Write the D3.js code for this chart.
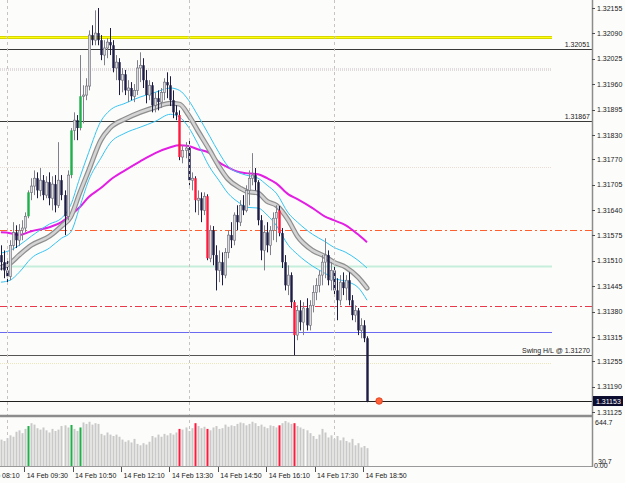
<!doctype html>
<html>
<head>
<script src="https://d3js.org/d3.v7.min.js"></script>
<style>
body { margin: 0; background: #fcfcfa; }
svg text { font-family: "Liberation Sans", Arial, sans-serif; font-size: 7px; fill: #202020; }
</style>
</head>
<body>
<svg width="625" height="483"></svg>
<script>
// ---- data (M5 bars, 14 Feb, first bar 08:50) ----
var firstBar = "08:50";
var opens = [1.31525,1.31507,1.31486,1.31471,1.31550,1.31583,1.31563,1.31588,1.31594,1.31624,
  1.31685,1.31701,1.31721,1.31690,1.31716,1.31678,1.31711,1.31670,1.31706,1.31652,
  1.31716,1.31678,1.31624,1.31729,1.31843,1.31869,1.31849,1.31930,1.31933,1.31956,
  1.32086,1.32073,1.32091,1.32073,1.32035,1.32053,1.32068,1.32060,1.32002,1.32017,
  1.31971,1.31986,1.31945,1.31951,1.31930,1.31945,1.32002,1.32009,1.31971,1.31933,
  1.31958,1.31907,1.31925,1.31915,1.31940,1.31966,1.31958,1.31920,1.31889,1.31882,
  1.31775,1.31792,1.31798,1.31716,1.31721,1.31665,1.31670,1.31639,1.31675,1.31517,
  1.31588,1.31525,1.31486,1.31507,1.31474,1.31532,1.31576,1.31563,1.31627,1.31609,
  1.31652,1.31639,1.31690,1.31721,1.31729,1.31711,1.31614,1.31537,1.31583,1.31550,
  1.31588,1.31619,1.31639,1.31581,1.31507,1.31448,1.31474,1.31405,1.31321,1.31384,
  1.31354,1.31390,1.31346,1.31397,1.31430,1.31448,1.31474,1.31507,1.31525,1.31461,
  1.31486,1.31435,1.31410,1.31456,1.31441,1.31461,1.31410,1.31372,1.31384,1.31333,
  1.31346,1.31313];
var highs = [1.31550,1.31537,1.31517,1.31563,1.31609,1.31601,1.31604,1.31614,1.31634,1.31690,
  1.31721,1.31741,1.31736,1.31747,1.31729,1.31726,1.31736,1.31726,1.31729,1.31813,
  1.31729,1.31690,1.31741,1.31849,1.31889,1.31882,1.32035,1.31958,1.31976,1.32098,
  1.32111,1.32149,1.32155,1.32086,1.32073,1.32078,1.32104,1.32073,1.32035,1.32027,
  1.32002,1.31997,1.31971,1.31966,1.31961,1.32022,1.32042,1.32027,1.31997,1.31971,
  1.31966,1.31940,1.31945,1.31951,1.31976,1.31991,1.31981,1.31945,1.31907,1.31894,
  1.31805,1.31813,1.31818,1.31736,1.31726,1.31690,1.31685,1.31685,1.31680,1.31601,
  1.31599,1.31550,1.31537,1.31532,1.31543,1.31588,1.31609,1.31634,1.31652,1.31665,
  1.31678,1.31703,1.31741,1.31785,1.31747,1.31716,1.31627,1.31601,1.31609,1.31599,
  1.31634,1.31652,1.31650,1.31594,1.31525,1.31499,1.31481,1.31410,1.31397,1.31410,
  1.31405,1.31415,1.31410,1.31448,1.31466,1.31486,1.31525,1.31568,1.31537,1.31507,
  1.31499,1.31466,1.31474,1.31481,1.31474,1.31481,1.31423,1.31397,1.31390,1.31364,
  1.31359,1.31318];
var lows = [1.31486,1.31466,1.31456,1.31461,1.31537,1.31543,1.31548,1.31563,1.31583,1.31619,
  1.31665,1.31678,1.31670,1.31675,1.31665,1.31670,1.31652,1.31639,1.31634,1.31645,
  1.31665,1.31576,1.31614,1.31721,1.31818,1.31818,1.31843,1.31861,1.31920,1.31945,
  1.32060,1.32060,1.32060,1.32022,1.32009,1.32027,1.32035,1.31991,1.31971,1.31933,
  1.31940,1.31933,1.31915,1.31920,1.31915,1.31933,1.31966,1.31951,1.31912,1.31920,
  1.31889,1.31889,1.31894,1.31900,1.31920,1.31925,1.31905,1.31874,1.31869,1.31767,
  1.31759,1.31772,1.31703,1.31690,1.31634,1.31627,1.31609,1.31627,1.31512,1.31507,
  1.31499,1.31435,1.31456,1.31448,1.31466,1.31517,1.31543,1.31550,1.31588,1.31599,
  1.31627,1.31634,1.31652,1.31703,1.31690,1.31601,1.31512,1.31486,1.31532,1.31525,
  1.31563,1.31558,1.31573,1.31492,1.31435,1.31423,1.31390,1.31270,1.31308,1.31333,
  1.31321,1.31333,1.31333,1.31379,1.31410,1.31430,1.31448,1.31466,1.31448,1.31435,
  1.31423,1.31359,1.31397,1.31423,1.31410,1.31397,1.31359,1.31354,1.31321,1.31313,
  1.31303,1.31150];
var closes = [1.31507,1.31486,1.31471,1.31550,1.31583,1.31563,1.31588,1.31594,1.31624,1.31685,
  1.31701,1.31721,1.31690,1.31716,1.31678,1.31711,1.31670,1.31706,1.31652,1.31716,
  1.31678,1.31624,1.31729,1.31843,1.31869,1.31849,1.31930,1.31933,1.31956,1.32086,
  1.32073,1.32091,1.32073,1.32035,1.32053,1.32068,1.32060,1.32002,1.32017,1.31971,
  1.31986,1.31945,1.31951,1.31930,1.31945,1.32002,1.32009,1.31971,1.31933,1.31958,
  1.31907,1.31925,1.31915,1.31940,1.31966,1.31958,1.31920,1.31889,1.31882,1.31775,
  1.31792,1.31798,1.31716,1.31721,1.31665,1.31670,1.31639,1.31675,1.31517,1.31588,
  1.31525,1.31486,1.31507,1.31474,1.31532,1.31576,1.31563,1.31627,1.31609,1.31652,
  1.31639,1.31690,1.31721,1.31729,1.31711,1.31614,1.31537,1.31583,1.31550,1.31588,
  1.31619,1.31634,1.31581,1.31507,1.31448,1.31474,1.31405,1.31321,1.31384,1.31354,
  1.31390,1.31346,1.31397,1.31430,1.31448,1.31474,1.31507,1.31525,1.31461,1.31486,
  1.31435,1.31410,1.31456,1.31441,1.31461,1.31410,1.31372,1.31384,1.31333,1.31346,
  1.31313,1.31153];
var volumes = [370,350,390,430,410,480,500,460,520,560,
  600,580,530,510,540,500,470,520,490,510,
  560,570,540,575,520,490,540,610,590,620,
  580,600,590,450,430,470,440,420,440,410,
  370,340,360,330,380,310,290,320,300,340,
  420,400,440,410,450,430,460,440,470,520,
  510,540,490,530,600,560,530,550,520,500,
  540,560,520,530,580,550,570,560,590,610,
  600,570,590,620,600,560,580,550,530,570,
  560,540,570,600,630,610,590,600,560,540,
  520,500,460,420,380,440,520,470,400,430,
  380,420,360,400,350,330,380,290,320,260,
  280,250];
var bullSignals = [9, 23, 26];
var bearSignals = [59, 64, 68, 92, 97];

// moving averages, read at these bar numbers
var maIdx   = [0,3,6,10,16,20,23,26,29,33,36,41,46,51,56,59,62,65,69,72,75,79,81,85,88,91,95,98,103,107,110,114,118,121];
var maGray  = [1.31494,1.31504,1.31525,1.31550,1.31573,1.31599,1.31622,1.31683,1.31741,1.31818,1.31849,1.31872,1.31889,1.31902,1.31912,1.31910,1.31882,1.31843,1.31792,1.31752,1.31719,1.31696,1.31688,1.31683,1.31662,1.31652,1.31614,1.31573,1.31537,1.31522,1.31507,1.31494,1.31469,1.31441];
var maUpper = [1.31530,1.31537,1.31550,1.31573,1.31604,1.31619,1.31652,1.31721,1.31787,1.31866,1.31894,1.31912,1.31928,1.31940,1.31951,1.31945,1.31920,1.31882,1.31828,1.31787,1.31752,1.31734,1.31729,1.31721,1.31703,1.31683,1.31632,1.31609,1.31578,1.31560,1.31545,1.31532,1.31512,1.31492];
var maLower = [1.31456,1.31461,1.31481,1.31517,1.31543,1.31568,1.31583,1.31647,1.31716,1.31772,1.31810,1.31836,1.31851,1.31866,1.31884,1.31877,1.31851,1.31810,1.31749,1.31716,1.31683,1.31657,1.31647,1.31645,1.31627,1.31601,1.31550,1.31527,1.31497,1.31479,1.31466,1.31458,1.31443,1.31410];
var maSlow  = [1.31583,1.31581,1.31576,1.31586,1.31596,1.31609,1.31627,1.31647,1.31673,1.31696,1.31716,1.31741,1.31764,1.31785,1.31800,1.31805,1.31803,1.31795,1.31785,1.31762,1.31749,1.31736,1.31734,1.31731,1.31721,1.31708,1.31680,1.31668,1.31645,1.31624,1.31614,1.31601,1.31578,1.31558];

// horizontal objects
var levelPrices = [1.32081, 1.32051, 1.32000, 1.31867, 1.31750, 1.31590, 1.31497, 1.31395, 1.31330, 1.31270, 1.31250, 1.31153];
var levelLabels = ["", "1.32051", "", "1.31867", "", "", "", "", "", "Swing H/L @ 1.31270", "", ""];
var sessionTimes = ["09:00", "14:00", "18:00"];
var timeLabels = ["08:10","09:30","10:50","12:10","13:30","14:50","16:10","17:30","18:50"];
var priceTicks = [1.32155,1.32090,1.32025,1.31960,1.31895,1.31830,1.31770,1.31705,1.31640,1.31575,1.31510,1.31445,1.31380,1.31315,1.31255,1.31190,1.31125];
var lastPrice = 1.31153;
var volTicks = ["644.7", "30.7", "0.00"];
var volMax = 644.7;

// ---- layout ----
var svg = d3.select("svg");
var axisX = 592, mainBottom = 415, volTop = 418, volBottom = 466;
var parseT = d3.timeParse("%Y-%m-%d %H:%M");
function tm(s) { return parseT("2013-02-14 " + s); }
var t0 = tm(firstBar);
function barTime(i) { return d3.timeMinute.offset(t0, 5 * i); }

var x = d3.scaleTime().domain([barTime(0), barTime(121)]).range([1, 367]);
var y = d3.scaleLinear().domain([1.31125, 1.32155]).range([412, 8]);
var yv = d3.scaleLinear().domain([0, volMax]).range([volBottom, 420]);

svg.append("rect").attr("width", 625).attr("height", 483).attr("fill", "#fcfcfa");

svg.append("clipPath").attr("id", "mainClip").append("rect")
  .attr("x", 0).attr("y", 0).attr("width", axisX).attr("height", mainBottom);
var main = svg.append("g").attr("clip-path", "url(#mainClip)");

// session separators
svg.append("g").selectAll("line").data(sessionTimes).enter().append("line")
  .attr("x1", d => Math.round(x(tm(d))) + 0.5).attr("x2", d => Math.round(x(tm(d))) + 0.5)
  .attr("y1", 0).attr("y2", volBottom)
  .attr("stroke", "#c8c2c2").attr("stroke-dasharray", "3,3");

// level line styles
var objEnd = 552;
var levelStyles = [
  {c: "#c9c900", w: 3.2, end: objEnd}, {c: "#3a3a3a", w: 1, end: axisX},
  {c: "#e2dbde", w: 3, end: objEnd, dash: "1,1"}, {c: "#3a3a3a", w: 1, end: axisX},
  {c: "#eadcd4", w: 1, end: objEnd, dash: "1,1"}, {c: "#ff5f2e", w: 1.2, end: axisX, dash: "7,3,2,3"},
  {c: "#c6eedc", w: 2, end: objEnd}, {c: "#e8384a", w: 1.2, end: axisX, dash: "7,3,2,3"},
  {c: "#6a6af2", w: 1, end: objEnd}, {c: "#555555", w: 1.2, end: axisX},
  {c: "#ece4bc", w: 1, end: objEnd, dash: "1,1"}, {c: "#202020", w: 1, end: axisX}
];
levelPrices.forEach(function (p, i) {
  var s = levelStyles[i], yy = Math.round(y(p)) + 0.5;
  main.append("line").attr("x1", 0).attr("x2", s.end).attr("y1", yy).attr("y2", yy)
    .attr("stroke", s.c).attr("stroke-width", s.w).attr("stroke-dasharray", s.dash || null);
  if (i === 0) {
    main.append("line").attr("x1", 0).attr("x2", s.end).attr("y1", yy).attr("y2", yy)
      .attr("stroke", "#ffff10").attr("stroke-width", 1.6);
  }
  if (levelLabels[i]) {
    main.append("text").attr("x", axisX - 2).attr("y", yy - 2.5)
      .attr("text-anchor", "end").text(levelLabels[i]);
  }
});

// moving averages
var line = d3.line().x((d, k) => x(barTime(maIdx[k]))).y(d => y(d)).curve(d3.curveMonotoneX);
main.append("path").attr("d", line(maSlow)).attr("fill", "none").attr("stroke", "#e21ee2").attr("stroke-width", 2);
main.append("path").attr("d", line(maUpper)).attr("fill", "none").attr("stroke", "#36c4f2").attr("stroke-width", 1);
main.append("path").attr("d", line(maLower)).attr("fill", "none").attr("stroke", "#36c4f2").attr("stroke-width", 1);
main.append("path").attr("d", line(maGray)).attr("fill", "none").attr("stroke", "#8e8e8e").attr("stroke-width", 5).attr("stroke-linecap", "round");
main.append("path").attr("d", line(maGray)).attr("fill", "none").attr("stroke", "#d4d4d4").attr("stroke-width", 2.6).attr("stroke-linecap", "round");

// candles
var bars = d3.range(opens.length);
var navy = "#1c1c44";
var cg = main.append("g");
cg.selectAll("line").data(bars).enter().append("line")
  .attr("x1", i => Math.round(x(barTime(i))) + 0.5).attr("x2", i => Math.round(x(barTime(i))) + 0.5)
  .attr("y1", i => y(highs[i])).attr("y2", i => y(lows[i]))
  .attr("stroke", i => closes[i] >= opens[i] ? "#80808c" : navy).attr("stroke-width", 1);
cg.selectAll("rect").data(bars).enter().append("rect")
  .attr("x", i => Math.round(x(barTime(i))) - 0.7)
  .attr("width", 2.4)
  .attr("y", i => y(Math.max(opens[i], closes[i])))
  .attr("height", i => Math.max(1, Math.abs(y(opens[i]) - y(closes[i]))))
  .attr("fill", function (i) {
    if (bullSignals.indexOf(i) >= 0) return "#1fb04a";
    if (bearSignals.indexOf(i) >= 0) return "#ff1a3c";
    return closes[i] >= opens[i] ? "#dcdcdc" : navy;
  })
  .attr("stroke", function (i) {
    if (bullSignals.indexOf(i) >= 0 || bearSignals.indexOf(i) >= 0) return "none";
    return closes[i] >= opens[i] ? "#6c6c7a" : "none";
  })
  .attr("stroke-width", 0.6);

// last price marker
main.append("circle").attr("cx", x(barTime(125))).attr("cy", y(lastPrice)).attr("r", 3.3)
  .attr("fill", "#ff6038").attr("stroke", "#d83a18").attr("stroke-width", 0.8);

// panel separator and axes frame
svg.append("line").attr("x1", 0).attr("x2", axisX).attr("y1", mainBottom + 1).attr("y2", mainBottom + 1)
  .attr("stroke", "#8c8c8c").attr("stroke-width", 2.5);
svg.append("line").attr("x1", 0).attr("x2", axisX).attr("y1", volBottom + 0.5).attr("y2", volBottom + 0.5)
  .attr("stroke", "#9a9a9a").attr("stroke-width", 1);
svg.append("line").attr("x1", axisX + 0.5).attr("x2", axisX + 0.5).attr("y1", 0).attr("y2", volBottom + 1)
  .attr("stroke", "#8c8c8c").attr("stroke-width", 1.5);

// volume
svg.append("g").selectAll("rect").data(bars).enter().append("rect")
  .attr("x", i => Math.round(x(barTime(i))) - 0.5)
  .attr("width", 2)
  .attr("y", i => yv(volumes[i]))
  .attr("height", i => volBottom - yv(volumes[i]))
  .attr("fill", function (i) {
    if (bullSignals.indexOf(i) >= 0) return "#1fb04a";
    if (bearSignals.indexOf(i) >= 0) return "#ff1a3c";
    return "#c9c9c9";
  });

// price axis
var pa = svg.append("g");
pa.selectAll("line").data(priceTicks).enter().append("line")
  .attr("x1", axisX).attr("x2", axisX + 3)
  .attr("y1", d => Math.round(y(d)) + 0.5).attr("y2", d => Math.round(y(d)) + 0.5)
  .attr("stroke", "#505050");
pa.selectAll("text").data(priceTicks).enter().append("text")
  .attr("x", axisX + 5).attr("y", d => y(d) + 2.5)
  .text(d => d.toFixed(5));
pa.append("rect").attr("x", axisX + 1).attr("y", y(lastPrice) - 5).attr("width", 30).attr("height", 10)
  .attr("fill", "#0c0c2e");
pa.append("text").attr("x", axisX + 4).attr("y", y(lastPrice) + 2.5).style("fill", "#ffffff")
  .text(lastPrice.toFixed(5));

// volume axis labels
svg.append("text").attr("x", axisX + 3).attr("y", 425).text(volTicks[0]);
svg.append("text").attr("x", axisX + 6).attr("y", 464).text(volTicks[1]);
svg.append("text").attr("x", axisX + 2).attr("y", 467.5).text(volTicks[2]);

// time axis
var ta = svg.append("g");
ta.selectAll("line").data(timeLabels).enter().append("line")
  .attr("x1", d => Math.round(x(tm(d))) - 0.5).attr("x2", d => Math.round(x(tm(d))) - 0.5)
  .attr("y1", volBottom + 1).attr("y2", volBottom + 6)
  .attr("stroke", "#505050");
ta.selectAll("text").data(timeLabels).enter().append("text")
  .attr("x", d => x(tm(d)) + 1.5).attr("y", 477.5)
  .text(d => "14 Feb " + d);
</script>
</body>
</html>
